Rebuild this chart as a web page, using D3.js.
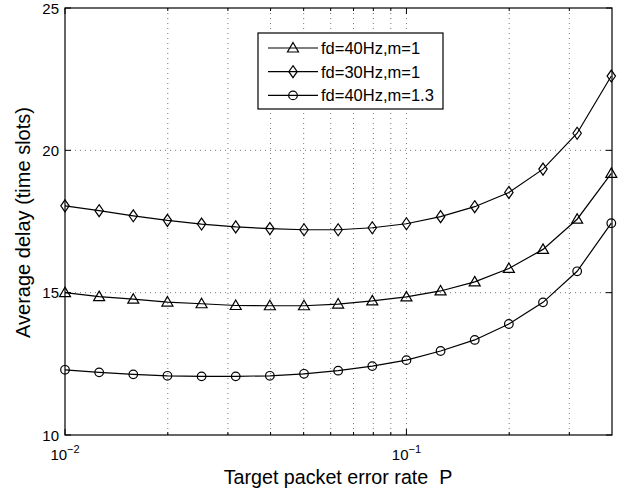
<!DOCTYPE html>
<html><head><meta charset="utf-8">
<script src="https://cdn.jsdelivr.net/npm/d3@7"></script>
<style>body{margin:0;background:#fff}svg{display:block}text{font-family:"Liberation Sans",Arial,sans-serif;fill:#000;white-space:pre}</style>
</head><body>
<script>
const exponents = [-2,-1.9,-1.8,-1.7,-1.6,-1.5,-1.4,-1.3,-1.2,-1.1,-1,-0.9,-0.8,-0.7,-0.6,-0.5,-0.4];
const pValues = exponents.map(e => Math.pow(10, e));
const seriesTri = [15.0,14.86,14.77,14.67,14.61,14.55,14.54,14.54,14.60,14.71,14.85,15.06,15.38,15.85,16.52,17.58,19.19];
const seriesDia = [18.05,17.88,17.70,17.54,17.41,17.31,17.25,17.21,17.21,17.28,17.42,17.67,18.02,18.52,19.34,20.60,22.61];
const seriesCir = [12.29,12.20,12.13,12.08,12.06,12.06,12.08,12.15,12.26,12.42,12.63,12.95,13.34,13.90,14.66,15.75,17.44];
const legendLabels = ["fd=40Hz,m=1","fd=30Hz,m=1","fd=40Hz,m=1.3"];
const markerTypes = ["triangle","diamond","circle"];
const yTicks = [10,15,20,25];
const xMajor = [0.01, 0.1];
const xMinor = [0.02,0.03,0.04,0.05,0.06,0.07,0.08,0.09,0.2,0.3];

const W=631,H=491, L=65, R=612, T=8, B=435;
const svg = d3.select("body").append("svg").attr("width",W).attr("height",H);
const x = d3.scaleLog().domain([0.01,0.4]).range([L,R]);
const y = d3.scaleLinear().domain([10,25]).range([B,T]);

// grid
const grid = svg.append("g").attr("stroke","#555").attr("stroke-width",0.8).attr("stroke-dasharray","1,4");
[...xMinor, 0.1].forEach(v=>grid.append("line").attr("x1",x(v)).attr("x2",x(v)).attr("y1",T).attr("y2",B));
[15,20].forEach(v=>grid.append("line").attr("x1",L).attr("x2",R).attr("y1",y(v)).attr("y2",y(v)));

// ticks (inward, all sides)
const tk = svg.append("g").attr("stroke","#000").attr("stroke-width",1);
xMajor.forEach(v=>{tk.append("line").attr("x1",x(v)).attr("x2",x(v)).attr("y1",B).attr("y2",B-6);
  tk.append("line").attr("x1",x(v)).attr("x2",x(v)).attr("y1",T).attr("y2",T+6);});
xMinor.forEach(v=>{tk.append("line").attr("x1",x(v)).attr("x2",x(v)).attr("y1",B).attr("y2",B-3);
  tk.append("line").attr("x1",x(v)).attr("x2",x(v)).attr("y1",T).attr("y2",T+3);});
yTicks.forEach(v=>{tk.append("line").attr("x1",L).attr("x2",L+6).attr("y1",y(v)).attr("y2",y(v));
  tk.append("line").attr("x1",R).attr("x2",R-6).attr("y1",y(v)).attr("y2",y(v));});

// box
svg.append("rect").attr("x",L).attr("y",T).attr("width",R-L).attr("height",B-T).attr("fill","none").attr("stroke","#000").attr("stroke-width",1.2);

// tick labels
yTicks.forEach(v=>svg.append("text").attr("x",L-6).attr("y",y(v)+5.5).attr("text-anchor","end").attr("font-size",15).text(v));
xMajor.forEach(v=>{
  const t = svg.append("text").attr("x",x(v)).attr("y",460).attr("text-anchor","middle").attr("font-size",15);
  t.append("tspan").text("10");
  t.append("tspan").attr("dy",-7).attr("font-size",11).text("\u2212"+Math.round(-Math.log10(v)));
});

// axis labels
svg.append("text").attr("x",338).attr("y",484).attr("text-anchor","middle").attr("font-size",19.7).text("Target packet error rate\u00a0 P");
svg.append("text").attr("transform",`translate(30,${(T+B)/2+1}) rotate(-90)`).attr("text-anchor","middle").attr("font-size",20).text("Average delay (time slots)");

function marker(g, type, cx, cy){
  if(type==="triangle") g.append("path").attr("d",`M${cx},${cy-5.5}L${cx+5.5},${cy+4}L${cx-5.5},${cy+4}Z`);
  else if(type==="diamond") g.append("path").attr("d",`M${cx},${cy-6}L${cx+4.2},${cy}L${cx},${cy+6}L${cx-4.2},${cy}Z`);
  else g.append("circle").attr("cx",cx).attr("cy",cy).attr("r",4.3);
}

const allSeries = [seriesTri, seriesDia, seriesCir];
const line = d3.line().x((d,i)=>x(pValues[i])).y(d=>y(d));
allSeries.forEach((s,k)=>{
  const g = svg.append("g");
  g.append("path").datum(s).attr("d",line).attr("fill","none").attr("stroke","#000").attr("stroke-width",1.2);
  const mg = g.append("g").attr("fill","none").attr("stroke","#000").attr("stroke-width",1.2);
  s.forEach((v,i)=>marker(mg, markerTypes[k], x(pValues[i]), y(v)));
});

// legend
const lg = svg.append("g");
lg.append("rect").attr("x",258).attr("y",33).attr("width",185).attr("height",76).attr("fill","#fff").attr("stroke","#000").attr("stroke-width",1.2);
legendLabels.forEach((lab,k)=>{
  const yy = 48 + k*23.7;
  lg.append("line").attr("x1",268).attr("x2",318).attr("y1",yy).attr("y2",yy).attr("stroke","#000").attr("stroke-width",1.2);
  const mg = lg.append("g").attr("fill","none").attr("stroke","#000").attr("stroke-width",1.2);
  marker(mg, markerTypes[k], 293, yy);
  lg.append("text").attr("x",321).attr("y",yy+6).attr("font-size",16.5).text(lab);
});
</script>
</body></html>
